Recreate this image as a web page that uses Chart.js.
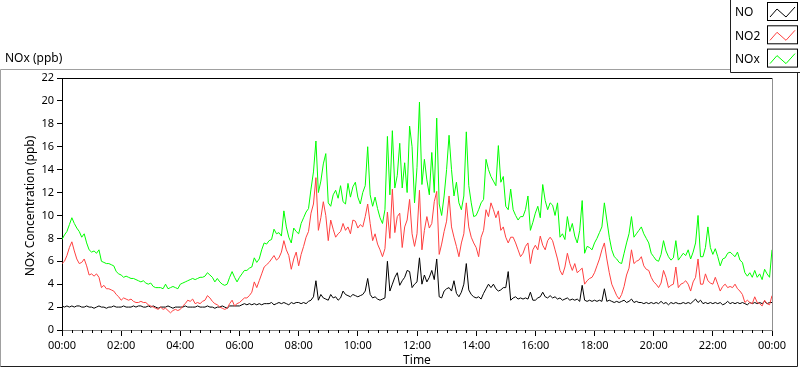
<!DOCTYPE html>
<html>
<head>
<meta charset="utf-8">
<script src="https://cdn.jsdelivr.net/npm/chart.js@4.4.1/dist/chart.umd.min.js"></script>
<style>
  html, body { margin: 0; padding: 0; background: #fff; }
  #chart { display: block; }
</style>
</head>
<body>
<canvas id="chart" width="800" height="369"></canvas>
<script>
// one reading every 5 minutes, one row per hour (00:00 .. 24:00)
const noxValues = [
  7.9, 8.3, 8.6, 9.2, 9.8, 9.3, 8.9, 8.6, 8.1, 8.4, 7.6, 7.0,
  6.8, 6.9, 6.7, 7.0, 6.0, 5.9, 5.8, 5.8, 5.7, 5.6, 5.1, 4.9,
  4.8, 4.6, 4.7, 4.6, 4.5, 4.5, 4.4, 4.3, 4.2, 4.3, 4.1, 4.0,
  4.1, 3.8, 3.7, 3.7, 3.7, 3.6, 4.0, 3.6, 3.7, 3.8, 3.7, 3.6,
  4.0, 4.1, 4.2, 4.3, 4.4, 4.5, 4.4, 4.5, 4.6, 4.6, 4.7, 5.0,
  4.8, 4.6, 4.2, 4.5, 4.2, 4.0, 3.9, 4.0, 4.6, 5.1, 4.6, 4.2,
  4.6, 4.9, 5.2, 5.2, 5.4, 5.5, 6.3, 5.9, 6.2, 7.0, 7.6, 7.5,
  7.8, 7.9, 8.8, 8.4, 8.5, 8.2, 10.4, 9.0, 8.1, 7.6, 8.9, 8.6,
  8.4, 9.3, 9.8, 10.3, 10.6, 12.3, 13.8, 16.5, 12.0, 13.0, 14.5, 15.4,
  11.1, 10.8, 11.8, 12.2, 11.5, 12.6, 11.2, 11.0, 12.8, 11.6, 12.5, 12.9,
  11.6, 11.0, 12.0, 12.6, 16.0, 11.8, 10.8, 11.6, 10.6, 9.8, 9.3, 10.5,
  16.9, 11.8, 17.4, 12.4, 13.5, 16.3, 12.4, 14.6, 12.0, 17.8, 16.0, 11.1,
  14.2, 19.9, 12.7, 14.9, 13.1, 11.8, 15.5, 12.0, 18.5, 11.0, 10.0, 11.7,
  14.0, 17.0, 14.0, 11.7, 12.9, 11.1, 10.5, 11.7, 17.3, 12.6, 11.1, 9.9,
  10.0, 10.5, 11.1, 11.4, 14.9, 14.0, 13.4, 13.0, 12.6, 16.1, 12.9, 13.4,
  10.8, 10.5, 12.3, 10.5, 10.0, 9.6, 9.9, 9.9, 10.5, 11.7, 8.7, 9.4,
  10.2, 10.8, 9.8, 12.7, 11.3, 10.5, 11.1, 10.9, 10.0, 11.1, 8.1, 8.4,
  7.9, 9.9, 8.6, 9.3, 8.2, 7.6, 8.7, 11.3, 6.7, 7.3, 7.2, 7.0,
  7.6, 8.0, 8.5, 9.0, 11.1, 9.6, 8.1, 7.0, 6.4, 6.2, 5.9, 5.8,
  6.7, 7.6, 8.4, 9.9, 8.1, 8.4, 8.7, 9.0, 8.4, 8.0, 7.6, 6.7,
  6.4, 6.1, 6.0, 6.6, 7.8, 6.9, 6.4, 6.1, 6.3, 7.8, 6.1, 6.4,
  6.7, 6.5, 7.0, 6.2, 6.8, 7.6, 10.0, 6.4, 6.4, 7.2, 9.0, 7.2,
  6.6, 7.1, 6.4, 5.6, 6.2, 6.3, 6.7, 6.8, 6.6, 6.4, 6.8, 6.1,
  5.9, 5.0, 4.7, 5.0, 4.6, 5.2, 4.6, 4.9, 4.4, 5.3, 4.9, 4.6,
  7.0
];

const no2Values = [
  5.8, 6.0, 6.5, 7.2, 7.7, 6.9, 6.2, 5.8, 5.9, 6.2, 5.6, 4.8,
  4.9, 4.7, 4.9, 4.6, 3.7, 3.9, 3.6, 3.6, 3.5, 3.4, 3.1, 2.9,
  2.6, 2.8, 2.7, 2.6, 2.7, 2.5, 2.4, 2.4, 2.5, 2.4, 2.4, 2.2,
  2.1, 2.0, 1.9, 1.8, 2.0, 1.8, 1.9, 1.7, 1.5, 1.7, 1.8, 1.7,
  1.8, 2.1, 2.3, 2.6, 2.5, 2.7, 2.3, 2.4, 2.3, 2.5, 2.6, 3.0,
  2.8, 2.5, 2.3, 2.2, 2.0, 1.9, 1.8, 1.9, 2.3, 2.6, 2.1, 2.3,
  2.4, 2.6, 2.8, 2.8, 3.0, 3.3, 4.2, 3.7, 4.3, 4.9, 5.5, 5.7,
  5.9, 6.2, 6.5, 6.1, 6.3, 6.8, 7.8, 7.0, 6.5, 5.3, 6.2, 6.8,
  5.6, 6.6, 7.3, 8.1, 8.6, 10.2, 11.0, 13.3, 8.7, 9.8, 11.2, 10.0,
  7.8, 9.6, 8.8, 8.1, 8.4, 8.6, 9.3, 8.7, 9.0, 8.4, 9.6, 9.5,
  8.9, 9.2, 9.0, 9.9, 11.0, 9.3, 7.8, 8.4, 7.5, 7.0, 6.4, 7.1,
  10.3, 8.0, 12.3, 8.5, 9.9, 10.2, 7.2, 9.0, 9.6, 11.4, 8.4, 7.3,
  8.4, 12.2, 7.0, 8.7, 9.9, 8.9, 9.3, 11.2, 12.1, 6.6, 7.5, 8.6,
  9.5, 11.7, 9.0, 8.1, 7.3, 6.4, 7.6, 8.4, 11.1, 9.0, 8.1, 7.6,
  7.2, 6.4, 8.1, 8.7, 10.5, 9.9, 11.1, 10.5, 9.8, 10.4, 8.7, 9.0,
  8.1, 7.6, 8.1, 8.1, 7.6, 7.0, 6.4, 6.7, 7.3, 7.6, 5.8, 7.0,
  7.4, 7.0, 8.2, 7.4, 7.0, 7.8, 8.1, 7.8, 7.0, 6.2, 5.2, 4.8,
  5.5, 6.7, 5.8, 5.2, 5.8, 5.0, 5.2, 5.4, 4.0, 4.3, 4.5, 4.6,
  5.0, 5.6, 6.2, 7.0, 7.6, 6.2, 5.0, 4.0, 3.5, 3.0, 2.7, 3.1,
  3.8, 4.8, 5.4, 7.0, 5.8, 6.0, 6.1, 6.4, 5.6, 5.3, 5.2, 4.6,
  4.2, 4.0, 3.7, 4.1, 5.2, 4.6, 3.7, 3.9, 4.0, 5.5, 3.7, 4.0,
  4.1, 4.3, 4.0, 3.4, 4.2, 4.6, 6.2, 4.0, 4.0, 4.9, 4.3, 4.1,
  4.0, 4.6, 4.0, 3.4, 3.8, 4.0, 3.7, 3.8, 3.7, 4.0, 3.6, 3.4,
  3.1, 2.4, 2.6, 2.4, 2.3, 2.9, 2.4, 2.3, 2.1, 2.6, 2.3, 2.2,
  3.0
];

const noValues = [
  2.1, 2.0, 2.1, 2.0, 2.1, 2.0, 2.1, 2.1, 2.0, 2.0, 2.1, 2.0,
  2.0, 1.9, 2.0, 2.1, 2.0, 2.0, 1.9, 2.0, 2.0, 2.1, 2.0, 2.0,
  2.0, 2.1, 2.0, 2.0, 2.0, 2.1, 2.0, 2.1, 2.1, 2.0, 2.0, 2.1,
  2.0, 2.1, 2.0, 1.9, 2.0, 2.0, 2.0, 2.1, 2.0, 1.9, 2.0, 2.0,
  2.0, 2.0, 2.1, 2.0, 2.0, 2.0, 2.0, 2.1, 2.0, 2.0, 2.0, 2.1,
  2.0, 2.0, 1.9, 2.0, 2.0, 2.1, 2.0, 1.9, 2.1, 2.1, 2.1, 2.1,
  2.1, 2.2, 2.3, 2.2, 2.3, 2.2, 2.3, 2.2, 2.3, 2.2, 2.3, 2.3,
  2.3, 2.4, 2.2, 2.3, 2.4, 2.3, 2.4, 2.3, 2.2, 2.4, 2.3, 2.4,
  2.4, 2.3, 2.4, 2.3, 2.5, 2.6, 2.9, 4.3, 2.6, 3.1, 2.8, 2.7,
  2.6, 3.1, 2.8, 2.9, 2.6, 2.8, 3.4, 3.1, 3.0, 2.9, 3.1, 3.0,
  2.9, 3.0, 3.1, 3.4, 4.5, 3.1, 2.8, 2.9, 2.7, 2.6, 2.7, 2.8,
  6.0, 3.4, 4.0, 4.6, 5.0, 3.9, 4.3, 4.6, 5.2, 5.1, 3.7, 4.0,
  4.2, 6.3, 4.0, 4.8, 4.2, 4.6, 5.2, 4.4, 6.2, 2.9, 2.8, 3.4,
  3.6, 3.7, 3.4, 4.3, 3.2, 2.9, 3.3, 4.0, 5.8, 3.5, 3.1, 2.9,
  2.8, 2.9, 2.7, 3.2, 3.6, 4.0, 3.7, 4.0, 3.6, 3.4, 3.5, 3.7,
  3.7, 5.1, 2.6, 2.8, 2.9, 2.7, 2.8, 2.7, 2.8, 2.7, 3.3, 2.6,
  2.6, 2.8, 2.9, 3.3, 2.9, 2.8, 3.0, 2.8, 2.9, 2.7, 2.8, 2.6,
  2.7, 2.8, 2.6, 2.7, 2.6, 2.7, 2.5, 3.9, 2.6, 2.5, 2.6, 2.5,
  2.6, 2.5, 2.6, 2.5, 3.6, 2.5, 2.6, 2.5, 2.4, 2.5, 2.4, 2.5,
  2.6, 2.4, 2.5, 2.7, 2.4, 2.5, 2.4, 2.4, 2.3, 2.4, 2.3, 2.4,
  2.3, 2.4, 2.3, 2.5, 2.3, 2.4, 2.2, 2.4, 2.3, 2.4, 2.3, 2.3,
  2.4, 2.3, 2.4, 2.3, 2.5, 2.7, 2.4, 2.6, 2.3, 2.4, 2.3, 2.4,
  2.3, 2.4, 2.3, 2.4, 2.2, 2.3, 2.5, 2.3, 2.4, 2.3, 2.4, 2.3,
  2.4, 2.3, 2.2, 2.4, 2.3, 2.4, 2.3, 2.4, 2.3, 2.5, 2.3, 2.4,
  2.4
];

// minutes since midnight for each reading
const minutes = noValues.map((v, i) => i * 5);

const seriesNames = ["NO", "NO2", "NOx"];
const seriesColors = ["#000000", "#ff4040", "#00ff00"];

const yTitle = "NOx Concentration (ppb)";
const xTitle = "Time";
const panelTitle = "NOx (ppb)";

function points(values) {
  return values.map((v, i) => ({ x: minutes[i], y: v }));
}

function timeLabel(m) {
  const h = Math.round(m / 60) % 24;
  return (h < 10 ? "0" : "") + h + ":00";
}

Chart.defaults.font.family = "'Noto Sans', 'Liberation Sans', sans-serif";
Chart.defaults.font.size = 11;
Chart.defaults.color = "#000";

const decorations = {
  id: "decorations",
  afterDraw(chart) {
    const ctx = chart.ctx;
    const area = chart.chartArea;
    const xs = chart.scales.x;
    ctx.save();

    // outer panel frame
    ctx.lineWidth = 1;
    ctx.strokeStyle = "#a0a0a0";
    ctx.beginPath();
    ctx.moveTo(0.5, 366.5);
    ctx.lineTo(0.5, 69.5);
    ctx.lineTo(797.5, 69.5);
    ctx.stroke();
    ctx.strokeStyle = "#202020";
    ctx.beginPath();
    ctx.moveTo(797.5, 69.5);
    ctx.lineTo(797.5, 366.5);
    ctx.lineTo(0.5, 366.5);
    ctx.stroke();

    // plot border, top and right
    ctx.strokeStyle = "#000";
    ctx.beginPath();
    ctx.moveTo(area.left, area.top + 0.5);
    ctx.lineTo(area.right, area.top + 0.5);
    ctx.stroke();
    ctx.strokeStyle = "#909090";
    ctx.beginPath();
    ctx.moveTo(area.right + 0.5, area.top);
    ctx.lineTo(area.right + 0.5, area.bottom);
    ctx.stroke();

    // minor ticks every 20 minutes
    ctx.strokeStyle = "#000";
    ctx.beginPath();
    for (let m = 20; m < 1440; m += 20) {
      if (m % 120 === 0) continue;
      const px = Math.round(xs.getPixelForValue(m)) + 0.5;
      ctx.moveTo(px, area.bottom);
      ctx.lineTo(px, area.bottom + 3);
    }
    ctx.stroke();

    // titles
    ctx.fillStyle = "#000";
    ctx.font = "12px 'Noto Sans', sans-serif";
    ctx.textBaseline = "middle";
    ctx.textAlign = "left";
    ctx.fillText(panelTitle, 5, 59);
    ctx.textAlign = "center";
    ctx.fillText(xTitle, (area.left + area.right) / 2, 361);
    ctx.save();
    ctx.translate(31, (area.top + area.bottom) / 2 + 2);
    ctx.rotate(-Math.PI / 2);
    ctx.fillText(yTitle, 0, 0);
    ctx.restore();

    // legend box
    ctx.fillStyle = "#fff";
    ctx.fillRect(730, 0, 70, 73);
    ctx.strokeStyle = "#202020";
    ctx.beginPath();
    ctx.moveTo(730.5, 0);
    ctx.lineTo(730.5, 72.5);
    ctx.lineTo(800, 72.5);
    ctx.stroke();
    seriesNames.forEach((name, i) => {
      const top = 2 + i * 23.3;
      ctx.fillStyle = "#000";
      ctx.textAlign = "left";
      ctx.fillText(name, 735, top + 11);
      ctx.strokeStyle = "#000";
      ctx.lineWidth = 1;
      ctx.strokeRect(767.5, top + 0.5, 30, 18);
      ctx.strokeStyle = seriesColors[i];
      ctx.beginPath();
      ctx.moveTo(770, top + 15);
      ctx.lineTo(777, top + 7);
      ctx.lineTo(786, top + 15);
      ctx.lineTo(795, top + 5);
      ctx.stroke();
    });

    ctx.restore();
  }
};

const config = {
  type: "line",
  data: {
    datasets: [
      { label: seriesNames[0], data: points(noValues), borderColor: seriesColors[0], order: 2 },
      { label: seriesNames[1], data: points(no2Values), borderColor: seriesColors[1], order: 1 },
      { label: seriesNames[2], data: points(noxValues), borderColor: seriesColors[2], order: 0 }
    ]
  },
  options: {
    responsive: false,
    animation: false,
    events: [],
    layout: { padding: { left: 0, right: 28, top: 78, bottom: 0 } },
    elements: {
      line: { borderWidth: 1, tension: 0 },
      point: { radius: 0 }
    },
    plugins: {
      legend: { display: false },
      tooltip: { enabled: false }
    },
    scales: {
      x: {
        type: "linear",
        min: 0,
        max: 1440,
        afterFit(scale) { scale.height = 39; },
        border: { display: true, color: "#808080" },
        grid: { drawOnChartArea: false, drawTicks: true, tickLength: 6, color: "#000" },
        ticks: {
          stepSize: 120,
          autoSkip: false,
          maxRotation: 0,
          padding: 3,
          callback: (v) => timeLabel(v)
        }
      },
      y: {
        min: 0,
        max: 22,
        afterFit(scale) { scale.width = 62; },
        border: { display: true, color: "#000" },
        grid: { drawOnChartArea: false, drawTicks: true, tickLength: 5, color: "#000" },
        ticks: { stepSize: 2, padding: 3 }
      }
    }
  },
  plugins: [decorations]
};

const chart = new Chart(document.getElementById("chart"), config);
</script>
</body>
</html>
